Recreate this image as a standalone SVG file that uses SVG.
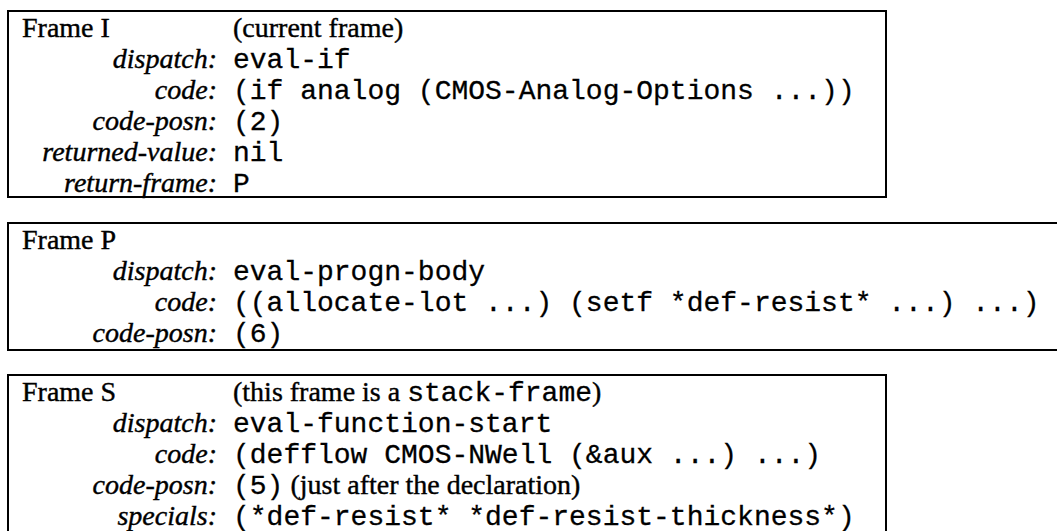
<svg xmlns="http://www.w3.org/2000/svg" width="1057" height="531" viewBox="0 0 1057 531">
<style>
.box{fill:none;stroke:#000;stroke-width:2}
.t{font-family:"Liberation Serif","Times New Roman",serif;font-size:28px;fill:#000;stroke:#000;stroke-width:0.4}
.l{font-family:"Liberation Serif","Times New Roman",serif;font-size:28px;font-style:italic;fill:#000;stroke:#000;stroke-width:0.4;text-anchor:end}
.m{font-family:"Liberation Mono","Courier New",monospace;font-size:28px;fill:#000;stroke:#000;stroke-width:0.3}
</style>
<rect width="1057" height="531" fill="#fff"/>
<g id="frame-I">
<rect class="box" x="8" y="11" width="878" height="186"/>
<text class="t" x="22" y="37">Frame I</text>
<text class="t" x="233" y="37">(current frame)</text>
<text class="l" x="217" y="68">dispatch:</text>
<text class="m" x="233" y="68">eval-if</text>
<text class="l" x="217" y="99">code:</text>
<text class="m" x="233" y="99">(if analog (CMOS-Analog-Options ...))</text>
<text class="l" x="217" y="130">code-posn:</text>
<text class="m" x="233" y="130">(2)</text>
<text class="l" x="217" y="161">returned-value:</text>
<text class="m" x="233" y="161">nil</text>
<text class="l" x="217" y="192">return-frame:</text>
<text class="m" x="233" y="192">P</text>
</g>
<g id="frame-P">
<path class="box" d="M1060 223 H8 V350 H1060"/>
<text class="t" x="22" y="249">Frame P</text>
<text class="l" x="217" y="280">dispatch:</text>
<text class="m" x="233" y="280">eval-progn-body</text>
<text class="l" x="217" y="311">code:</text>
<text class="m" x="233" y="311">((allocate-lot ...) (setf *def-resist* ...) ...)</text>
<text class="l" x="217" y="342">code-posn:</text>
<text class="m" x="233" y="342">(6)</text>
</g>
<g id="frame-S">
<path class="box" d="M8 540 V375 H886 V540"/>
<text class="t" x="22" y="401">Frame S</text>
<text x="233" y="401"><tspan class="t">(this frame is a </tspan><tspan class="m">stack-frame</tspan><tspan class="t">)</tspan></text>
<text class="l" x="217" y="432">dispatch:</text>
<text class="m" x="233" y="432">eval-function-start</text>
<text class="l" x="217" y="463">code:</text>
<text class="m" x="233" y="463">(defflow CMOS-NWell (&amp;aux ...) ...)</text>
<text class="l" x="217" y="494">code-posn:</text>
<text x="233" y="494"><tspan class="m">(5)</tspan><tspan class="t"> (just after the declaration)</tspan></text>
<text class="l" x="217" y="525">specials:</text>
<text class="m" x="233" y="525">(*def-resist* *def-resist-thickness*)</text>
</g>
</svg>
